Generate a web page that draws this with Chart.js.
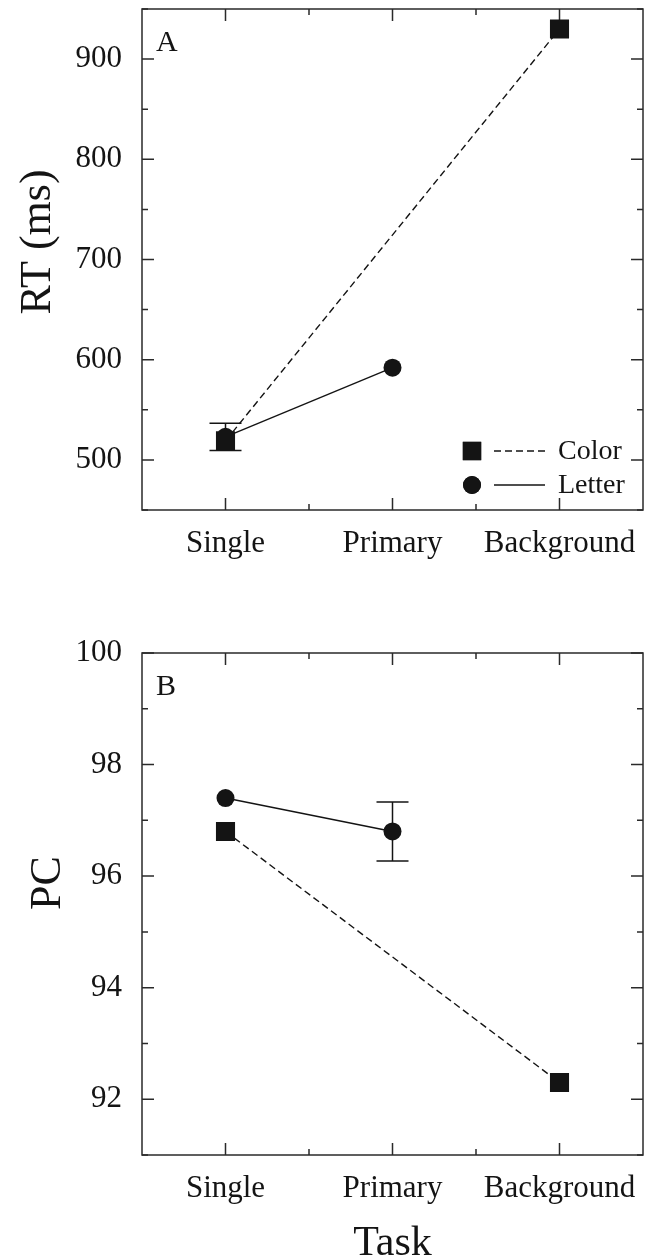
<!DOCTYPE html>
<html>
<head>
<meta charset="utf-8">
<script src="https://cdn.jsdelivr.net/npm/chart.js@4/dist/chart.umd.min.js"></script>
<style>
  html, body { margin: 0; padding: 0; background: #fff; }
  canvas { position: absolute; left: 0; }
</style>
</head>
<body>
<canvas id="rtChart" width="649" height="580" style="top:0"></canvas>
<canvas id="pcChart" width="649" height="678" style="top:580px"></canvas>
<script>
// categories
const tasks = ['Single', 'Primary', 'Background'];

// panel A: RT (ms)
const rtColor = [519, null, 930];
const rtLetter = [523, 592, null];
const rtLetterErr = [13.5, null, null];

// panel B: PC
const pcColor = [96.8, null, 92.3];
const pcLetter = [97.4, 96.8, null];
const pcLetterErr = [null, 0.53, null];

const INK = '#141414';
Chart.defaults.font.family = '"Liberation Serif", "Times New Roman", serif';
Chart.defaults.color = INK;

// error bars, drawn under the markers
const errorBars = {
  id: 'errorBars',
  beforeDatasetsDraw(chart) {
    const ctx = chart.ctx, ys = chart.scales.y;
    chart.data.datasets.forEach((ds, di) => {
      if (!ds.errors) return;
      const meta = chart.getDatasetMeta(di);
      ds.errors.forEach((e, i) => {
        if (e == null || ds.data[i] == null) return;
        const x = meta.data[i].x;
        const top = ys.getPixelForValue(ds.data[i] + e);
        const bot = ys.getPixelForValue(ds.data[i] - e);
        ctx.save();
        ctx.strokeStyle = INK;
        ctx.lineWidth = 1.5;
        ctx.beginPath();
        ctx.moveTo(x, top); ctx.lineTo(x, bot);
        ctx.moveTo(x - 16, top); ctx.lineTo(x + 16, top);
        ctx.moveTo(x - 16, bot); ctx.lineTo(x + 16, bot);
        ctx.stroke();
        ctx.restore();
      });
    });
  }
};

// box frame with inward ticks on all four sides
const frame = {
  id: 'frame',
  beforeDatasetsDraw(chart) {
    const { ctx, chartArea: a } = chart;
    const xs = chart.scales.x, ys = chart.scales.y;
    ctx.save();
    ctx.strokeStyle = '#2a2a2a';
    ctx.lineWidth = 1.5;
    ctx.strokeRect(a.left, a.top, a.right - a.left, a.bottom - a.top);
    ctx.beginPath();
    const n = tasks.length;
    for (let i = 0; i < n; i++) {
      const px = xs.getPixelForValue(i);
      ctx.moveTo(px, a.bottom); ctx.lineTo(px, a.bottom - 12);
      ctx.moveTo(px, a.top); ctx.lineTo(px, a.top + 12);
      if (i < n - 1) {
        const mx = (px + xs.getPixelForValue(i + 1)) / 2;
        ctx.moveTo(mx, a.bottom); ctx.lineTo(mx, a.bottom - 6);
        ctx.moveTo(mx, a.top); ctx.lineTo(mx, a.top + 6);
      }
    }
    ys.ticks.forEach(t => {
      const py = ys.getPixelForValue(t.value);
      const len = t.label !== '' ? 12 : 6;
      ctx.moveTo(a.left, py); ctx.lineTo(a.left + len, py);
      ctx.moveTo(a.right, py); ctx.lineTo(a.right - len, py);
    });
    ctx.stroke();
    ctx.restore();
  }
};

// panel letter, axis titles and (panel A) the legend
const annotate = {
  id: 'annotate',
  afterDraw(chart, args, opts) {
    const { ctx, chartArea: a } = chart;
    ctx.save();
    ctx.fillStyle = INK;
    ctx.font = '30px "Liberation Serif"';
    ctx.textBaseline = 'alphabetic';
    ctx.fillText(opts.panel, a.left + 14, a.top + 42);

    ctx.font = '44px "Liberation Serif"';
    ctx.textAlign = 'center';
    ctx.save();
    ctx.translate(opts.yTitleX, opts.yTitleY);
    ctx.rotate(-Math.PI / 2);
    ctx.fillText(opts.yTitle, 0, 0);
    ctx.restore();
    if (opts.xTitle) {
      ctx.font = '42px "Liberation Serif"';
      ctx.fillText(opts.xTitle, (a.left + a.right) / 2, opts.xTitleY);
    }

    if (opts.legend) {
      ctx.font = '28px "Liberation Serif"';
      ctx.textAlign = 'left';
      ctx.textBaseline = 'middle';
      const rows = [a.bottom - 59, a.bottom - 25];
      chart.data.datasets.forEach((ds, i) => {
        const y = rows[i];
        Chart.helpers.drawPoint(ctx, {
          pointStyle: ds.pointStyle, radius: ds.legendRadius, rotation: 0, borderWidth: 0
        }, a.right - 171, y);
        ctx.fillStyle = INK;
        ctx.fill();
        ctx.strokeStyle = INK;
        ctx.lineWidth = 1.4;
        ctx.setLineDash(ds.borderDash || []);
        ctx.beginPath();
        ctx.moveTo(a.right - 149, y); ctx.lineTo(a.right - 98, y);
        ctx.stroke();
        ctx.setLineDash([]);
        ctx.fillText(ds.label, a.right - 85, y + 1);
      });
    }
    ctx.restore();
  }
};

function series(label, data, opts) {
  return Object.assign({
    label,
    data,
    borderColor: INK,
    backgroundColor: INK,
    pointBackgroundColor: INK,
    pointBorderColor: INK,
    pointBorderWidth: 0,
    borderWidth: 1.4,
    spanGaps: true,
    tension: 0
  }, opts);
}

function makeChart(id, cfg) {
  return new Chart(document.getElementById(id), {
    type: 'line',
    data: {
      labels: tasks,
      datasets: [
        series('Color', cfg.color, { pointStyle: 'rect', pointRadius: 13.5, legendRadius: 13, borderDash: [7, 4] }),
        series('Letter', cfg.letter, { pointStyle: 'circle', pointRadius: 9, legendRadius: 9, errors: cfg.letterErr })
      ]
    },
    options: {
      responsive: false,
      animation: false,
      events: [],
      layout: { autoPadding: false, padding: { top: cfg.padTop, right: 6, left: 0, bottom: 0 } },
      plugins: {
        legend: { display: false },
        tooltip: { enabled: false },
        annotate: cfg.annotate
      },
      scales: {
        x: {
          type: 'category',
          offset: true,
          grid: { display: false, drawTicks: false },
          border: { display: false },
          ticks: { font: { size: 31 }, padding: 15, color: INK, autoSkip: false, maxRotation: 0 },
          afterFit: s => { s.height = cfg.xHeight; s.paddingLeft = 0; s.paddingRight = 0; }
        },
        y: {
          min: cfg.min, max: cfg.max,
          grid: { display: false, drawTicks: false },
          border: { display: false },
          ticks: {
            stepSize: cfg.minorStep,
            autoSkip: false,
            font: { size: 31 },
            padding: 20,
            color: INK,
            callback: v => (Math.round(v) % cfg.majorStep === 0 ? v : '')
          },
          afterFit: s => { s.width = 142; s.paddingTop = 0; s.paddingBottom = 0; }
        }
      }
    },
    plugins: [frame, errorBars, annotate]
  });
}

makeChart('rtChart', {
  color: rtColor, letter: rtLetter, letterErr: rtLetterErr,
  min: 450, max: 950, minorStep: 50, majorStep: 100,
  padTop: 9, xHeight: 70,
  annotate: { panel: 'A', yTitle: 'RT (ms)', yTitleX: 50, yTitleY: 242, legend: true }
});

makeChart('pcChart', {
  color: pcColor, letter: pcLetter, letterErr: pcLetterErr,
  min: 91, max: 100, minorStep: 1, majorStep: 2,
  padTop: 73, xHeight: 103,
  annotate: { panel: 'B', yTitle: 'PC', yTitleX: 60, yTitleY: 303, xTitle: 'Task', xTitleY: 675 }
});
</script>
</body>
</html>
